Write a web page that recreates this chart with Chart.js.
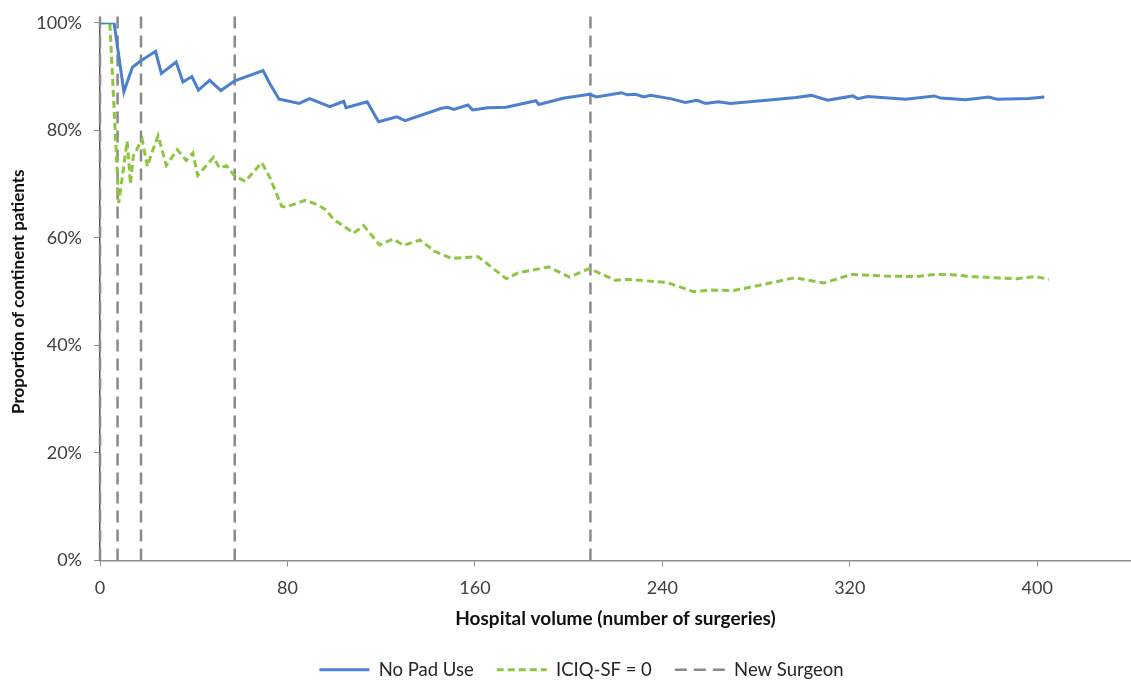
<!DOCTYPE html>
<html>
<head>
<meta charset="utf-8">
<script src="https://cdn.jsdelivr.net/npm/chart.js@4.4.0/dist/chart.umd.min.js"></script>
<style>
  html, body { margin: 0; padding: 0; background: #fff; }
  #wrap { width: 1131px; height: 680px; }
</style>
</head>
<body>
<div id="wrap"><canvas id="chart" width="1131" height="680"></canvas></div>
<script>
// No Pad Use (cumulative proportion, %)
const noPadX = [0, 6, 10.2, 13.8, 17, 23.7, 26.2, 32.5, 35.4, 39.2, 42, 46.8, 51.6, 57.5, 69.6, 72.2, 76.4, 77.8, 85, 89.4,
  98.1, 104, 105, 114, 118.9, 126.7, 130.2, 145.8, 148.3, 151, 157, 159, 165.6, 173.4, 186, 187.3, 198.1, 209, 211.8, 222.5,
  225, 228.6, 232.1, 234.9, 243.4, 249.8, 254.8, 258.4, 264, 269, 284.5, 297, 303.6, 310.5, 321.3, 323.4, 327.6, 343.9, 356, 358.8,
  369.4, 379.3, 382.8, 396.3, 403];
const noPadY = [100, 100, 87.2, 91.7, 92.8, 94.7, 90.6, 92.7, 89.0, 90.0, 87.5, 89.3, 87.4, 89.2, 91.1, 88.9, 85.8, 85.7, 85.0, 85.9,
  84.4, 85.4, 84.2, 85.3, 81.6, 82.5, 81.8, 84.1, 84.3, 83.9, 84.7, 83.8, 84.2, 84.3, 85.5, 84.8, 86.0, 86.7, 86.2, 87.0,
  86.6, 86.7, 86.2, 86.5, 85.9, 85.2, 85.6, 85.0, 85.3, 85.0, 85.6, 86.1, 86.5, 85.6, 86.4, 85.9, 86.3, 85.8, 86.4, 86.0,
  85.7, 86.2, 85.8, 85.9, 86.2];

// ICIQ-SF = 0 (cumulative proportion, %)
const icqX = [0, 4.2, 8, 11.6, 13, 14.2, 18, 20.2, 22.6, 24.8, 28.3, 33, 36.8, 39.6, 41.7, 48.4, 51, 54, 57.5, 62,
  69, 72.2, 77.5, 79.2, 87.5, 92.7, 96.5, 99.8, 108.3, 112.5, 119.3, 125.2, 129.5, 136.5, 142.9, 150, 161.4, 173.4, 178.4, 191.5,
  200.3, 208.8, 220, 225, 242, 253.3, 261.8, 270.3, 281.6, 296.5, 309, 320.6, 334.7, 348.2, 356.7, 362.3, 372.2, 391.3, 399.1, 405];
const icqY = [100, 100, 66.5, 78, 70, 75.2, 78.3, 73.3, 76.4, 79, 73.5, 76.4, 74.4, 75.8, 71.6, 75, 73, 73.4, 71.5, 70.5,
  74, 71.5, 65.9, 65.7, 67, 66.2, 65.2, 63.4, 60.9, 62.3, 58.7, 59.8, 58.6, 59.6, 57.5, 56.2, 56.5, 52.4, 53.5, 54.6,
  52.7, 54.3, 52.1, 52.3, 51.7, 50.0, 50.3, 50.2, 51.2, 52.6, 51.6, 53.2, 52.9, 52.8, 53.2, 53.2, 52.8, 52.4, 52.8, 52.3];

// hospital volume at which a new surgeon started
const surgeonX = [0, 7.5, 17.5, 57.5, 209.3];
const surgeonTop = 101.8;

const xTicks = [0, 80, 160, 240, 320, 400];
const yTicks = [0, 20, 40, 60, 80, 100];

const FONT = "Lato, 'Noto Sans', sans-serif";

const toPts = (xs, ys) => xs.map((x, i) => ({ x: x, y: ys[i] }));
const surgeonPts = [];
surgeonX.forEach(x => {
  surgeonPts.push({ x: x, y: 0 }, { x: x, y: surgeonTop }, { x: x, y: null });
});

const ctx = document.getElementById("chart").getContext("2d");
new Chart(ctx, {
  type: "scatter",
  data: {
    datasets: [
      { label: "No Pad Use", data: toPts(noPadX, noPadY), showLine: true, borderColor: "#4a80cf",
        borderWidth: 3, pointRadius: 0, tension: 0 },
      { label: "ICIQ-SF = 0", data: toPts(icqX, icqY), showLine: true, borderColor: "#8dc641",
        borderWidth: 3, borderDash: [7, 4], pointRadius: 0, tension: 0 },
      { label: "New Surgeon", data: surgeonPts, showLine: true, spanGaps: false, borderColor: "#8a8a8a",
        borderWidth: 2.5, borderDash: [12, 7], pointRadius: 0, clip: false }
    ]
  },
  options: {
    responsive: false,
    animation: false,
    layout: { padding: { top: 20, right: 0, bottom: -9, left: 32 } },
    plugins: {
      tooltip: { enabled: false },
      legend: {
        position: "bottom",
        labels: {
          usePointStyle: true,
          pointStyleWidth: 50,
          boxHeight: 16,
          padding: 23,
          color: "#262626",
          font: { family: FONT, size: 18.5 },
          generateLabels: (chart) => chart.data.datasets.map((ds, i) => ({
            text: ds.label,
            datasetIndex: i,
            strokeStyle: ds.borderColor,
            fillStyle: ds.borderColor,
            lineWidth: ds.borderWidth,
            lineDash: ds.borderDash || [],
            pointStyle: "line",
            fontColor: "#262626",
            hidden: false
          }))
        }
      }
    },
    scales: {
      x: {
        type: "linear",
        min: 0,
        max: 440,
        afterBuildTicks: (scale) => { scale.ticks = xTicks.map(v => ({ value: v })); },
        afterFit: (scale) => { scale.height = 77; },
        grid: { display: true, drawOnChartArea: false, drawTicks: true, tickLength: 6, color: "#8c8c8c" },
        border: { color: "#8c8c8c", width: 1.5 },
        ticks: { color: "#404040", font: { family: FONT, size: 18 }, padding: 11 },
        title: { display: true, text: "Hospital volume (number of surgeries)", color: "#111",
          font: { family: FONT, size: 19, weight: "bold" }, padding: { top: 0, bottom: 7.5 } }
      },
      y: {
        min: 0,
        max: 100,
        afterBuildTicks: (scale) => { scale.ticks = yTicks.map(v => ({ value: v })); },
        afterFit: (scale) => { scale.width = 68; },
        grid: { display: true, drawOnChartArea: false, drawTicks: true, tickLength: 6, color: "#8c8c8c" },
        border: { color: "#555", width: 1.5 },
        ticks: { color: "#404040", font: { family: FONT, size: 18 }, padding: 12,
          callback: (v) => v + "%" },
        title: { display: true, text: "Proportion of continent patients", color: "#111",
          font: { family: FONT, size: 17, weight: "bold" }, padding: { top: -23.2, bottom: 0 } }
      }
    }
  }
});
</script>
</body>
</html>
